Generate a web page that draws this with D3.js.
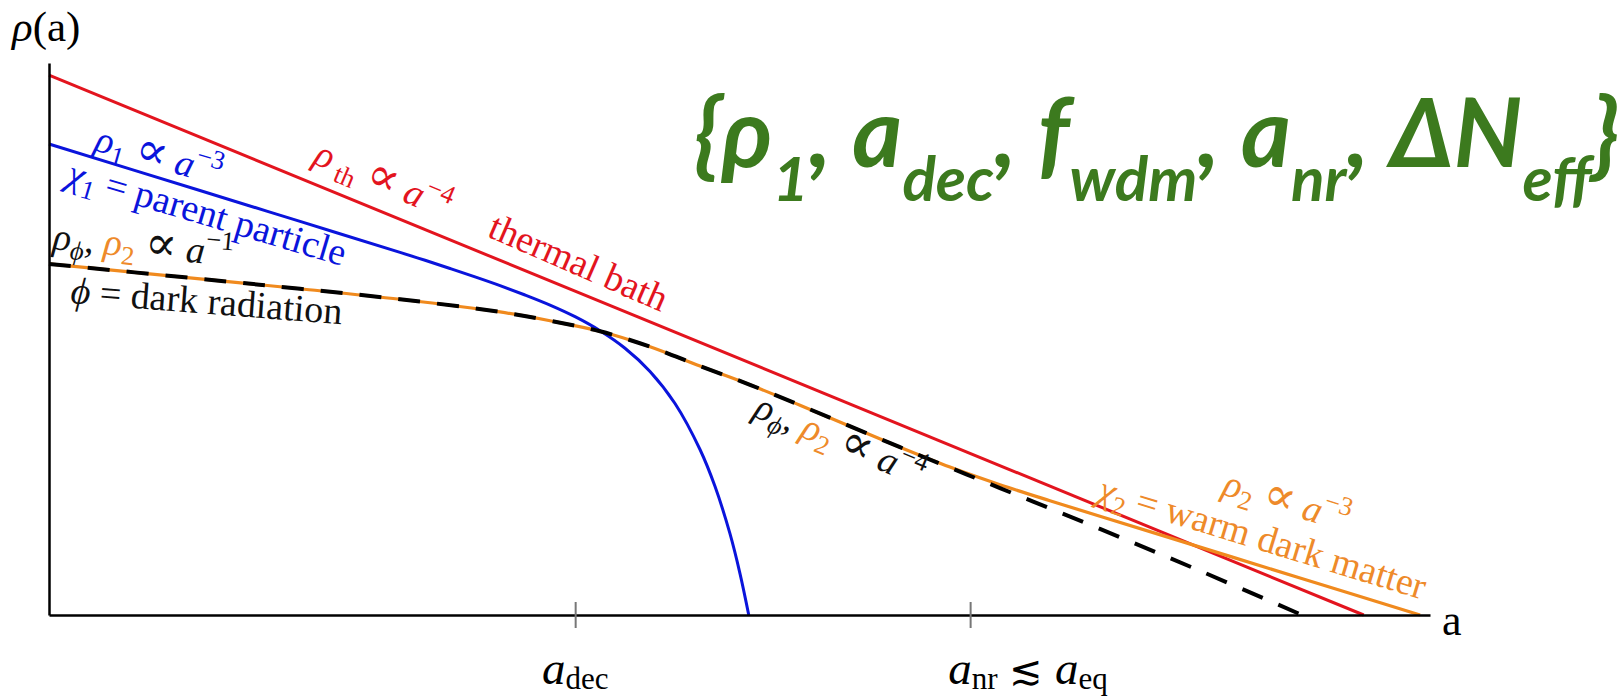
<!DOCTYPE html>
<html>
<head>
<meta charset="utf-8">
<script src="https://cdn.jsdelivr.net/npm/d3@7"></script>
<style>
  html, body { margin: 0; padding: 0; background: #fff; }
  svg { display: block; }
</style>
</head>
<body>
<svg id="chart" width="1623" height="700"></svg>
<script>
// ---------- data (schematic log a vs log rho) ----------
const aTicks = [3.81, 6.67];
const tickLabelParts = [
  [["a", "i"], ["dec", "_"]],
  [["a", "i"], ["nr", "_"], [" ", ""], ["\u2272", "s"], [" ", ""], ["a", "i"], ["eq", "_"]]
];

const thermalA   = [0, 9.52];
const thermalRho = [9.78, 0];

const parentA   = [0, 1.093, 1.818, 2.542, 2.723, 2.904, 3.085, 3.266, 3.447, 3.628, 3.809, 3.990, 4.171, 4.352, 4.533, 4.714, 4.823, 4.931, 5.004, 5.067];
const parentRho = [8.533, 7.690, 7.130, 6.569, 6.426, 6.277, 6.125, 5.967, 5.797, 5.614, 5.404, 5.150, 4.833, 4.413, 3.832, 2.998, 2.326, 1.473, 0.746, 0];

const darkA   = [0, 1.093, 1.818, 2.542, 3.266, 3.628, 3.990, 4.352, 4.714, 5.076, 5.438, 6.162, 6.886, 7.610, 8.335, 9.073];
const darkRho = [6.36, 6.09, 5.91, 5.72, 5.49, 5.33, 5.14, 4.86, 4.51, 4.17, 3.80, 3.04, 2.30, 1.56, 0.80, 0];

const wdmA   = [0, 1.093, 1.818, 2.542, 3.266, 3.628, 3.990, 4.352, 4.714, 5.076, 5.438, 6.162, 6.524, 6.886, 7.248, 7.610, 8.335, 9.059, 9.928];
const wdmRho = [6.36, 6.09, 5.91, 5.72, 5.49, 5.33, 5.14, 4.86, 4.51, 4.17, 3.80, 3.04, 2.68, 2.36, 2.07, 1.79, 1.23, 0.67, 0];

const headerParts = [
  ["{", "b"], ["\u03C1", "b"], ["1", "s"], [", ", "b"], ["a", "b"], ["dec", "s"], [", ", "b"],
  ["f", "b"], ["wdm", "s"], [", ", "b"], ["a", "b"], ["nr", "s"], [", ", "b"],
  ["\u0394N", "b"], ["eff", "s"], ["}", "b"]
];

// ---------- styles ----------
const RED = "#e3141e", BLUE = "#0a14dc", ORANGE = "#f08a1e", TORANGE = "#ee8a2a", GREEN = "#3c7a1e";
const SERIF = "'Liberation Serif', 'DejaVu Serif', serif";

const svg = d3.select("#chart");
const x = d3.scaleLinear().domain([0, 10]).range([49, 1430]);
const y = d3.scaleLinear().domain([0, 10]).range([615, 63]);

const line = d3.line().x(d => x(d[0])).y(d => y(d[1])).curve(d3.curveCatmullRom.alpha(0.5));
const zip = (a, b) => a.map((v, i) => [v, b[i]]);

// curves
svg.append("path").datum(zip(thermalA, thermalRho)).attr("d", line)
  .attr("fill", "none").attr("stroke", RED).attr("stroke-width", 3);
svg.append("path").datum(zip(parentA, parentRho)).attr("d", line)
  .attr("fill", "none").attr("stroke", BLUE).attr("stroke-width", 3);
svg.append("path").datum(zip(wdmA, wdmRho)).attr("d", line)
  .attr("fill", "none").attr("stroke", ORANGE).attr("stroke-width", 3.2);
svg.append("path").datum(zip(darkA, darkRho)).attr("d", line)
  .attr("fill", "none").attr("stroke", "#000").attr("stroke-width", 4)
  .attr("stroke-dasharray", "22 17");

// axes
svg.append("g").attr("transform", `translate(0,${y(0)})`)
  .call(d3.axisBottom(x).tickValues(aTicks).tickSize(13).tickSizeOuter(0).tickFormat(""))
  .call(g => g.select(".domain").attr("stroke", "#000").attr("stroke-width", 2.5))
  .call(g => g.selectAll(".tick line").attr("y1", -13).attr("y2", 13).attr("stroke", "#777").attr("stroke-width", 2));
svg.append("g").attr("transform", `translate(${x(0)},0)`)
  .call(d3.axisLeft(y).tickValues([]).tickSizeOuter(0))
  .call(g => g.select(".domain").attr("stroke", "#000").attr("stroke-width", 2.5));

// math text helper: flags i=italic, _=sub, ^=sup, s=symbol (DejaVu)
function mathText(g, parts, size, opts = {}) {
  const t = g.append("text").attr("font-family", SERIF).attr("font-size", size)
    .attr("fill", opts.fill || "#111");
  if (opts.anchor) t.attr("text-anchor", opts.anchor);
  const subShift = opts.subShift != null ? opts.subShift : 0.22;
  const subScale = opts.subScale || 0.7;
  const symScale = opts.symScale || 1.25;
  let shift = 0;
  parts.forEach(p => {
    const [txt, st, col] = p;
    const ts = t.append("tspan").text(txt).attr("xml:space", "preserve");
    let target = 0, fs = size;
    if (st.includes("_")) { target = subShift * size; fs = subScale * size; }
    if (st.includes("^")) { target = -0.42 * size; fs = 0.7 * size; }
    if (st.includes("s")) { fs = symScale * size; ts.attr("font-family", "'DejaVu Serif', serif"); }
    if (st.includes("i")) ts.attr("font-style", "italic");
    ts.attr("font-size", fs);
    if (target !== shift) { ts.attr("dy", target - shift); shift = target; }
    if (col) ts.attr("fill", col);
  });
  t.style("white-space", "pre");
  return t;
}
function label(parts, size, px, py, angle, opts) {
  const g = svg.append("g").attr("transform", `translate(${px},${py}) rotate(${angle})`);
  return mathText(g, parts, size, opts);
}

// axis labels
label([["\u03C1", "i"], ["(a)", ""]], 43, 12, 41, 0, { fill: "#000" });
label([["a", ""]], 44, 1442, 635, 0, { fill: "#000" });
label(tickLabelParts[0], 47, x(aTicks[0]), 684, 0, { fill: "#000", anchor: "middle", subShift: 0.1, subScale: 0.66 });
label(tickLabelParts[1], 47, x(aTicks[1]) - 22, 684, 0, { fill: "#000", subShift: 0.1, subScale: 0.66, symScale: 0.85 });

// curve annotations
const LS = 38;
const P = ["\u221D", "s"];
label([["\u03C1", "i"], ["1", "_"], [" ", ""], P, [" ", ""], ["a", "i"], ["\u22123", "^"]], LS, 93, 150, 16, { fill: BLUE });
label([["\u03C7", "i"], ["1", "_"], [" = parent particle", ""]], LS, 65, 184, 16.5, { fill: BLUE });
label([["\u03C1", "i"], [" th", "_"], [" ", ""], P, [" ", ""], ["a", "i"], ["\u22124", "^"]], LS, 312, 163, 23, { fill: RED });
label([["thermal bath", ""]], LS, 486, 236, 23.5, { fill: RED });
label([["\u03C1", "i"], ["\u03D5", "_i"], [", ", ""], ["\u03C1", "i", TORANGE], ["2", "_", TORANGE], [" ", ""], P, [" ", ""], ["a", "i"], ["\u22121", "^"]], LS, 52, 249, 5.5, { fill: "#111" });
label([["\u03D5", "i"], [" = dark radiation", ""]], LS, 70, 303, 4.5, { fill: "#111" });
label([["\u03C1", "i"], ["\u03D5", "_i"], [", ", ""], ["\u03C1", "i", TORANGE], ["2", "_", TORANGE], [" ", ""], P, [" ", ""], ["a", "i"], ["\u22124", "^"]], LS, 752, 416, 23, { fill: "#111" });
label([["\u03C1", "i"], ["2", "_"], [" ", ""], P, [" ", ""], ["a", "i"], ["\u22123", "^"]], LS, 1221, 494, 17, { fill: TORANGE });
label([["\u03C7", "i"], ["2", "_"], [" = warm dark matter", ""]], LS, 1096, 500, 17, { fill: TORANGE });

// green parameter header
const head = svg.append("text").attr("x", 694).attr("y", 167)
  .attr("font-family", "Lato, 'Open Sans', sans-serif").attr("font-weight", 700)
  .attr("font-style", "italic").attr("fill", GREEN).style("white-space", "pre");
let hs = 0;
headerParts.forEach(([txt, st]) => {
  const ts = head.append("tspan").text(txt).attr("xml:space", "preserve");
  const target = st === "s" ? 34 : 0;
  ts.attr("font-size", st === "s" ? 62 : 96);
  if (target !== hs) { ts.attr("dy", target - hs); hs = target; }
});
</script>
</body>
</html>
